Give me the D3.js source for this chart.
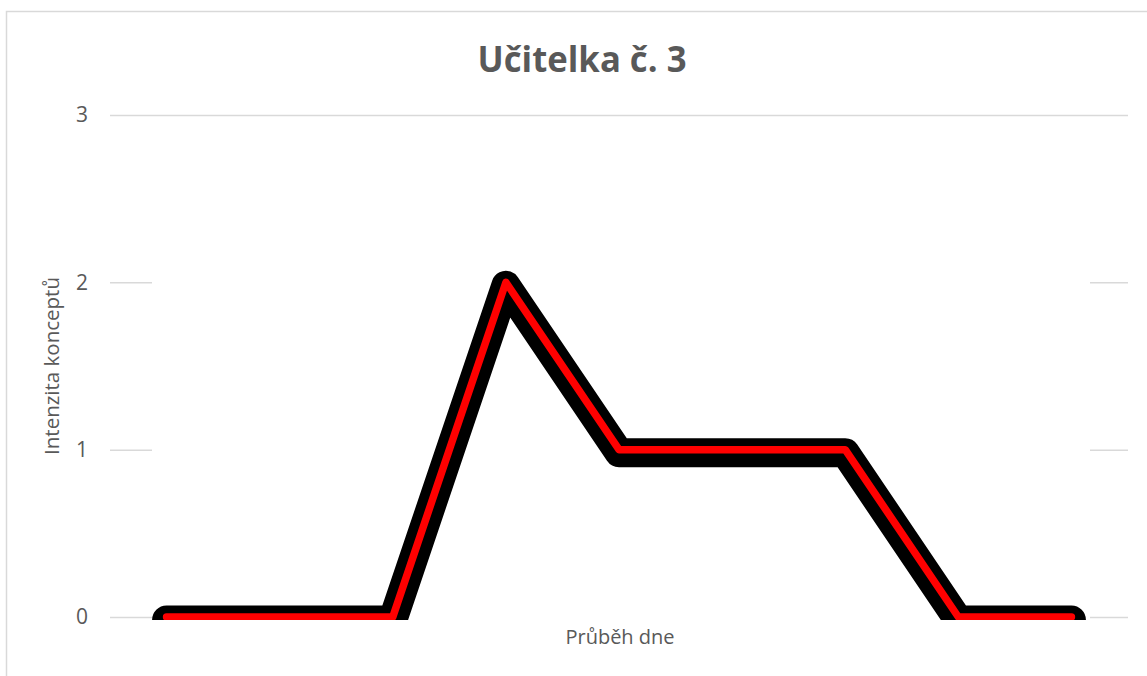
<!DOCTYPE html>
<html>
<head>
<meta charset="utf-8">
<script src="https://cdn.jsdelivr.net/npm/d3@7"></script>
<style>
body { margin: 0; background: #fff; }
text { font-family: "Open Sans", sans-serif; fill: #595959; }
</style>
</head>
<body>
<script>
// data
var categories = ["1","2","3","4","5","6","7","8","9"];
var values = [0, 0, 0, 2, 1, 1, 1, 0, 0];
var yTicks = [0, 1, 2, 3];
var title = "Učitelka č. 3";
var yTitle = "Intenzita konceptů";
var xTitle = "Průběh dne";

var W = 1147, H = 676;
var plotL = 110, plotR = 1128, plotT = 115, plotB = 617;

var svg = d3.select("body").append("svg")
    .attr("width", W)
    .attr("height", H);

// chart border
svg.append("rect")
    .attr("x", 6.5).attr("y", 11.5)
    .attr("width", W).attr("height", H)
    .attr("fill", "#fff")
    .attr("stroke", "#d9d9d9")
    .attr("stroke-width", 1.5);

var x = d3.scalePoint().domain(categories).range([plotL, plotR]).padding(0.5);
var y = d3.scaleLinear().domain([0, 3]).range([plotB, plotT]);

// grid + tick labels
var yAxis = svg.append("g")
    .attr("transform", "translate(" + plotL + ",0)")
    .call(d3.axisLeft(y).tickValues(yTicks).tickFormat(d3.format("d"))
        .tickSizeInner(-(plotR - plotL)).tickSizeOuter(0).tickPadding(22));
yAxis.select(".domain").remove();
yAxis.selectAll("line").attr("stroke", "#d9d9d9").attr("stroke-width", 1.5);
yAxis.selectAll("text").attr("font-size", 21).attr("fill", "#595959")
    .attr("font-family", "Open Sans, sans-serif");

// white area over the middle of the plot (hides grid there)
svg.append("rect")
    .attr("x", 152).attr("y", 132)
    .attr("width", 1090 - 152).attr("height", 622 - 132)
    .attr("fill", "#fff");

// clip at plot bottom
svg.append("clipPath").attr("id", "plotclip")
    .append("rect").attr("x", 0).attr("y", 0).attr("width", W).attr("height", 620);

var line = d3.line()
    .x(function(d, i) { return x(categories[i]); })
    .y(function(d) { return y(d); });

var g = svg.append("g").attr("clip-path", "url(#plotclip)");

// black thick line under
g.append("path")
    .datum(values)
    .attr("d", line)
    .attr("transform", "translate(0,3)")
    .attr("fill", "none")
    .attr("stroke", "#000")
    .attr("stroke-width", 29)
    .attr("stroke-linejoin", "round")
    .attr("stroke-linecap", "round");

// red line on top
g.append("path")
    .datum(values)
    .attr("d", line)
    .attr("fill", "none")
    .attr("stroke", "#ff0000")
    .attr("stroke-width", 7.5)
    .attr("stroke-linejoin", "round")
    .attr("stroke-linecap", "round");

// title
svg.append("text")
    .attr("x", 582).attr("y", 72)
    .attr("text-anchor", "middle")
    .attr("font-size", 36)
    .attr("font-weight", "bold")
    .attr("textLength", 209)
    .attr("lengthAdjust", "spacingAndGlyphs")
    .text(title);

// y title
svg.append("text")
    .attr("transform", "translate(59," + ((plotT + plotB) / 2) + ") rotate(-90)")
    .attr("text-anchor", "middle")
    .attr("font-size", 20.5)
    .text(yTitle);

// x title
svg.append("text")
    .attr("x", 620).attr("y", 644)
    .attr("text-anchor", "middle")
    .attr("font-size", 20)
    .text(xTitle);
</script>
</body>
</html>
